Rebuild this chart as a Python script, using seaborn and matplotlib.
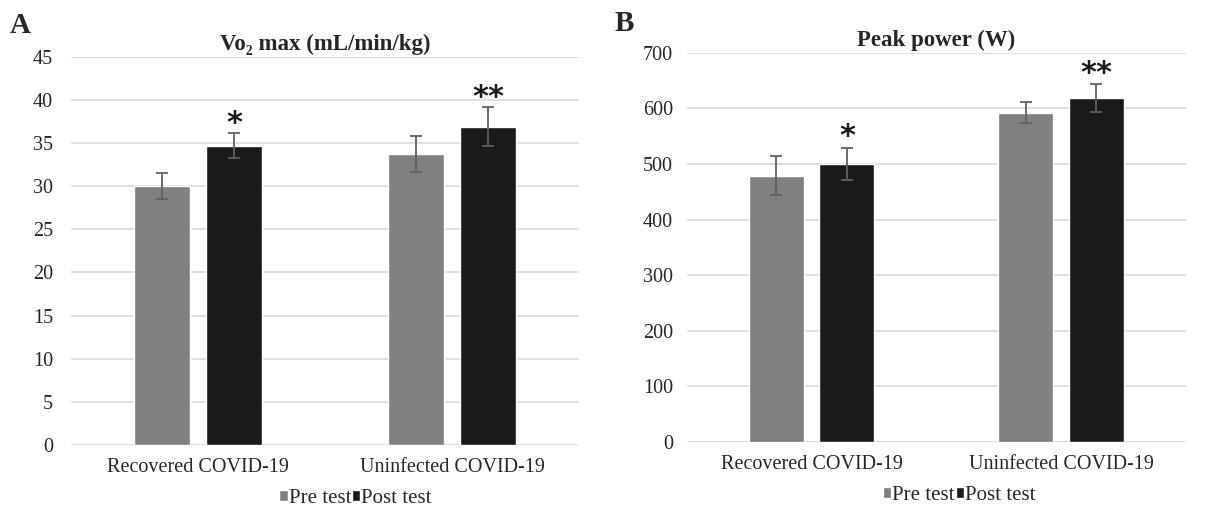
import pandas as pd
import numpy as np
import matplotlib.pyplot as plt
import seaborn as sns

groups = ['Recovered COVID-19', 'Uninfected COVID-19']
tests = ['Pre test', 'Post test']

# Vo2 max (mL/min/kg)
vo2_pre = [30.0, 33.7]
vo2_post = [34.7, 36.9]
vo2_pre_sd = [1.55, 2.05]
vo2_post_sd = [1.45, 2.25]

# Peak power (W)
pp_pre = [479, 592]
pp_post = [500, 618]
pp_pre_sd = [35, 19]
pp_post_sd = [29, 25]

stars = ['*', '**']

sns.set_style('whitegrid')
plt.rcParams['font.family'] = ['Liberation Serif', 'DejaVu Serif']

colors = ['#808080', '#1a1a1a']


def panel(ax, pre, post, pre_sd, post_sd, title, ymax, ystep, star_pad, ypad, leg_x):
    df = pd.DataFrame({
        'group': groups * 2,
        'test': [tests[0]] * 2 + [tests[1]] * 2,
        'value': pre + post,
        'sd': pre_sd + post_sd,
    })
    sns.barplot(data=df, x='group', y='value', hue='test', palette=colors,
                width=0.567, gap=0.224, errorbar=None, ax=ax, saturation=1)
    # error bars at bar centres
    for patch_set, vals, sds in [(ax.containers[0], pre, pre_sd), (ax.containers[1], post, post_sd)]:
        xs = [p.get_x() + p.get_width() / 2 for p in patch_set]
        ax.errorbar(xs, vals, yerr=sds, fmt='none', ecolor='#606060',
                    elinewidth=1.3, capsize=4, capthick=1.3, zorder=3)
    # significance stars above post bars
    for p, v, s, st in zip(ax.containers[1], post, post_sd, stars):
        ax.text(p.get_x() + p.get_width() / 2, v + s + star_pad, st,
                ha='center', va='bottom', fontsize=22, fontfamily='DejaVu Sans',
                fontweight='bold', color='#1a1a1a')
    ax.set_ylim(0, ymax)
    ax.set_yticks(np.arange(0, ymax + 1, ystep))
    ax.set_xlim(-0.5, 1.5)
    ax.set_xlabel('')
    ax.set_ylabel('')
    ax.set_title(title, fontsize=16.5, fontweight='bold', pad=5)
    ax.grid(axis='y', color='#d9d9d9', linewidth=1.2)
    ax.grid(axis='x', visible=False)
    for sp in ax.spines.values():
        sp.set_visible(False)
    ax.tick_params(axis='y', labelsize=14.5, pad=ypad, length=0)
    ax.tick_params(axis='x', labelsize=14.5, pad=9.5, length=0)
    sns.move_legend(ax, 'upper center', bbox_to_anchor=(leg_x, -0.065), ncol=2,
                    frameon=False, title=None, fontsize=15,
                    handlelength=0.4, handleheight=0.4,
                    handletextpad=0.05, columnspacing=0.05)


fig = plt.figure(figsize=(12.05, 5.09), dpi=100)
axA = fig.add_axes([0.059, 0.1257, 0.4216, 0.763])
axB = fig.add_axes([0.570, 0.1316, 0.414, 0.765])

panel(axA, vo2_pre, vo2_post, vo2_pre_sd, vo2_post_sd,
      'Vo₂ max (mL/min/kg)', 45, 5, -0.6, 13, 0.56)
panel(axB, pp_pre, pp_post, pp_pre_sd, pp_post_sd,
      'Peak power (W)', 700, 100, -6, 10, 0.546)

fig.text(0.008, 0.935, 'A', fontsize=21, fontweight='bold')
fig.text(0.510, 0.94, 'B', fontsize=21, fontweight='bold')

fig.savefig('out.png', dpi=100)
